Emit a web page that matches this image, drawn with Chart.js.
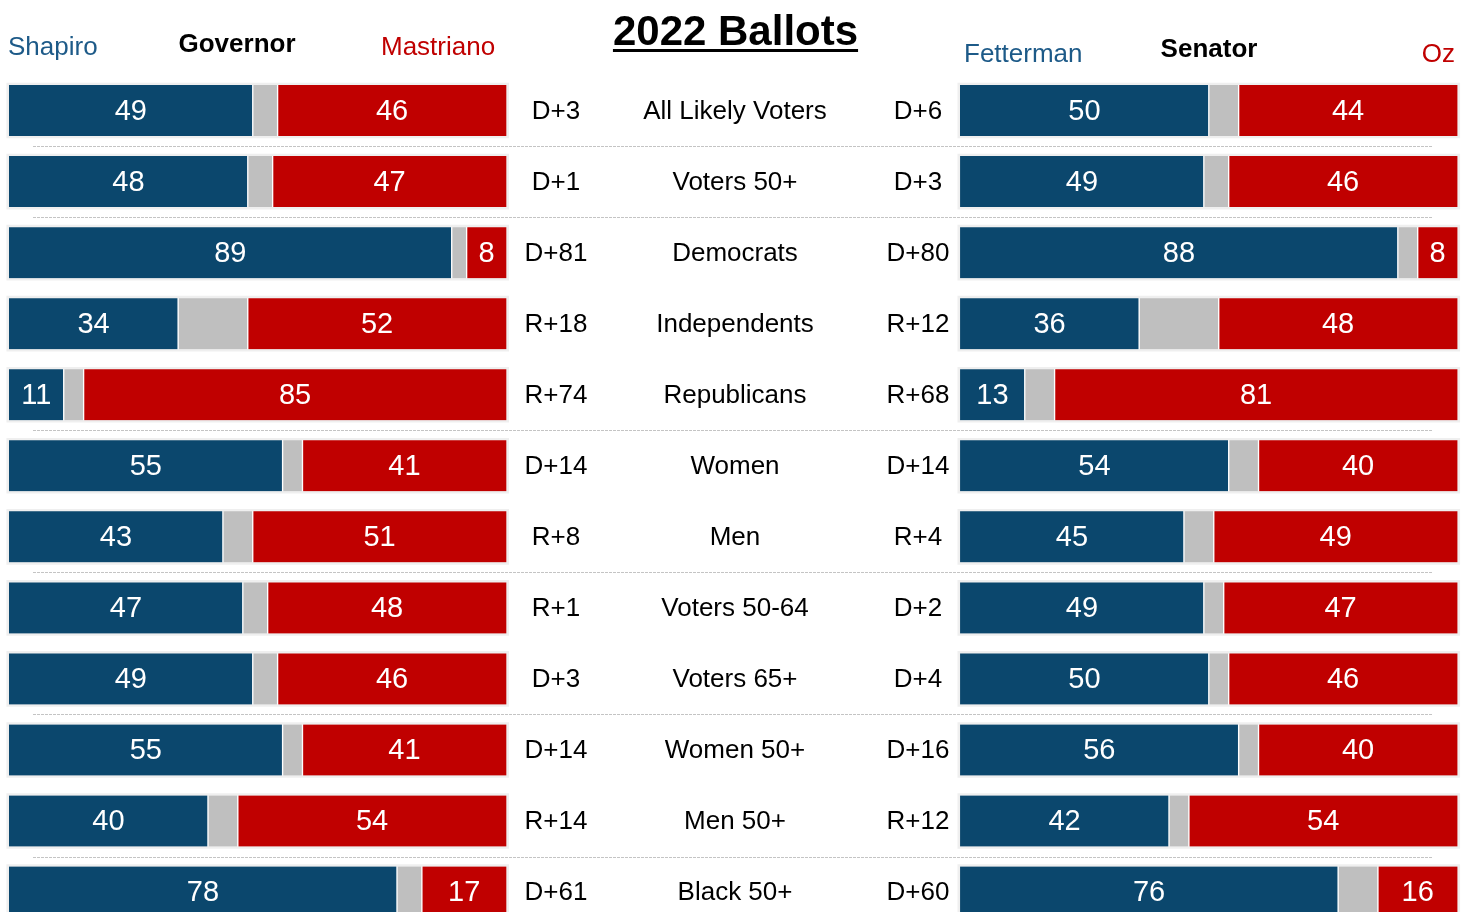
<!DOCTYPE html>
<html>
<head>
<meta charset="utf-8">
<script src="https://cdn.jsdelivr.net/npm/chart.js@4/dist/chart.umd.min.js"></script>
<style>
  html, body { margin: 0; padding: 0; background: #fff; overflow: hidden; }
  #wrap { position: relative; width: 1470px; height: 960px; }
</style>
</head>
<body>
<div id="wrap"><canvas id="ballots"></canvas></div>
<script>
// Data
const categories = ['All Likely Voters', 'Voters 50+', 'Democrats', 'Independents', 'Republicans', 'Women', 'Men',
  'Voters 50-64', 'Voters 65+', 'Women 50+', 'Men 50+', 'Black 50+'];
const govShapiro   = [49, 48, 89, 34, 11, 55, 43, 47, 49, 55, 40, 78];
const govMastriano = [46, 47, 8, 52, 85, 41, 51, 48, 46, 41, 54, 17];
const senFetterman = [50, 49, 88, 36, 13, 54, 45, 49, 50, 56, 42, 76];
const senOz        = [44, 46, 8, 48, 81, 40, 49, 47, 46, 40, 54, 16];
const govMargins = ['D+3', 'D+1', 'D+81', 'R+18', 'R+74', 'D+14', 'R+8', 'R+1', 'D+3', 'D+14', 'R+14', 'D+61'];
const senMargins = ['D+6', 'D+3', 'D+80', 'R+12', 'R+68', 'D+14', 'R+4', 'D+2', 'D+4', 'D+16', 'R+12', 'D+60'];
const groupBreaks = [0, 1, 4, 6, 8, 10]; // dotted line drawn below these rows

const BLUE = '#0b476d';
const RED = '#c00000';
const GREY = '#bfbfbf';
const FRAME = '#efefef';
const FONT = '"Liberation Sans", Arial, sans-serif';

const X_MAX = 291.3;
const SEN_OFFSET = 191.2;

// build floating bar segments: [start, end] per row
function segments(dem, rep, offset) {
  return {
    frame: dem.map(() => [offset - 0.45, offset + 100.45]),
    dem: dem.map(d => [offset, offset + d]),
    und: dem.map((d, i) => [offset + d, offset + 100 - rep[i]]),
    rep: rep.map(r => [offset + 100 - r, offset + 100])
  };
}
const gov = segments(govShapiro, govMastriano, 0);
const sen = segments(senFetterman, senOz, SEN_OFFSET);

function bar(label, data, color, border, order, thick) {
  return {
    label, data, backgroundColor: color, borderColor: '#ffffff', borderWidth: border,
    borderSkipped: false, grouped: false, barThickness: thick, order, clip: false
  };
}

const labelPlugin = {
  id: 'labels',
  afterDatasetsDraw(chart) {
    const ctx = chart.ctx;
    const y = chart.scales.y;
    ctx.save();

    // separators
    ctx.strokeStyle = '#c4c4c4';
    ctx.lineWidth = 1;
    ctx.setLineDash([3, 1]);
    groupBreaks.forEach(i => {
      const py = Math.round((y.getPixelForValue(i) + y.getPixelForValue(i + 1)) / 2) + 0.5;
      ctx.beginPath();
      ctx.moveTo(33, py);
      ctx.lineTo(1433, py);
      ctx.stroke();
    });
    ctx.setLineDash([]);

    // numbers inside bars
    ctx.fillStyle = '#ffffff';
    ctx.font = '29px ' + FONT;
    ctx.textAlign = 'center';
    ctx.textBaseline = 'middle';
    chart.data.datasets.forEach((ds, di) => {
      if (!ds.showValue) return;
      chart.getDatasetMeta(di).data.forEach((el, i) => {
        const p = el.getProps(['x', 'y', 'base'], true);
        ctx.fillText(String(ds.values[i]), (p.x + p.base) / 2, p.y + 1);
      });
    });

    // middle column
    ctx.fillStyle = '#000000';
    ctx.font = '26px ' + FONT;
    categories.forEach((c, i) => {
      const py = y.getPixelForValue(i) + 1;
      ctx.fillText(govMargins[i], 556, py);
      ctx.fillText(c, 735, py);
      ctx.fillText(senMargins[i], 918, py);
    });

    // headers
    ctx.textBaseline = 'alphabetic';
    ctx.font = 'bold 42px ' + FONT;
    ctx.fillText('2022 Ballots', 735.5, 45);
    const tw = ctx.measureText('2022 Ballots').width;
    ctx.fillRect(735.5 - tw / 2, 49, tw, 3);

    ctx.font = 'bold 26px ' + FONT;
    ctx.fillText('Governor', 237, 52);
    ctx.fillText('Senator', 1209, 57);

    ctx.font = '26px ' + FONT;
    ctx.fillStyle = '#1d5a88';
    ctx.textAlign = 'left';
    ctx.fillText('Shapiro', 8, 55);
    ctx.fillText('Fetterman', 964, 62);
    ctx.fillStyle = RED;
    ctx.fillText('Mastriano', 381, 55);
    ctx.textAlign = 'right';
    ctx.fillText('Oz', 1455, 62);
    ctx.restore();
  }
};

const datasets = [
  bar('gov frame', gov.frame, FRAME, 0, 10, 55),
  Object.assign(bar('Shapiro', gov.dem, BLUE, { right: 1 }, 1, 51), { showValue: true, values: govShapiro }),
  bar('gov undecided', gov.und, GREY, { left: 1, right: 1 }, 1, 51),
  Object.assign(bar('Mastriano', gov.rep, RED, { left: 1 }, 1, 51), { showValue: true, values: govMastriano }),
  bar('sen frame', sen.frame, FRAME, 0, 10, 55),
  Object.assign(bar('Fetterman', sen.dem, BLUE, { right: 1 }, 1, 51), { showValue: true, values: senFetterman }),
  bar('sen undecided', sen.und, GREY, { left: 1, right: 1 }, 1, 51),
  Object.assign(bar('Oz', sen.rep, RED, { left: 1 }, 1, 51), { showValue: true, values: senOz })
];

new Chart(document.getElementById('ballots').getContext('2d'), {
  type: 'bar',
  data: { labels: categories, datasets },
  options: {
    indexAxis: 'y',
    responsive: true,
    maintainAspectRatio: false,
    animation: false,
    layout: { padding: { left: 9, right: 12, top: 75, bottom: 32.4 } },
    scales: {
      x: { type: 'linear', min: 0, max: X_MAX, display: false },
      y: { type: 'category', display: false, offset: true }
    },
    plugins: { legend: { display: false }, tooltip: { enabled: false } }
  },
  plugins: [labelPlugin]
});
</script>
</body>
</html>
